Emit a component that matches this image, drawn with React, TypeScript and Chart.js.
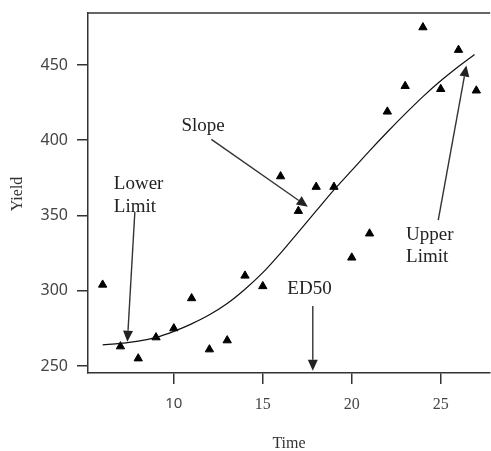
import React, { useEffect, useRef } from "react";
import { Chart, registerables } from "chart.js";

Chart.register(...registerables);

// Observed data
const timeValues = [6, 7, 8, 9, 10, 11, 12, 13, 14, 15, 16, 17, 18, 19, 20, 21, 22, 23, 24, 25, 26, 27];
const yieldValues = [304, 263, 255, 269, 275, 295, 261, 267, 310, 303, 376, 353, 369, 369, 322, 338, 419, 436, 475, 434, 460, 433];

// Fitted curve
const fitTime = [6, 7, 8, 9, 10, 11, 12, 13, 14, 15, 16, 17, 18, 19, 20, 21, 22, 23, 24, 25, 26, 26.9];
const fitYield = [264, 265, 266.5, 269, 273, 278, 284, 291.5, 301, 312, 325, 339, 353, 367, 380, 393, 405.5, 417.5, 429, 439.5, 449, 457];

const xTickValues = [10, 15, 20, 25];
const yTickValues = [250, 300, 350, 400, 450];

// Annotations in data units
const noteLabels = [["Lower", "Limit"], ["Slope"], ["ED50"], ["Upper", "Limit"]];
const noteTextX = [6.63, 10.43, 16.38, 23.05];
const noteTextY = [[367.6, 352.3], [406.4], [297.8], [333.9, 318.9]];
const arrowFrom = [[7.81, 352.3], [12.11, 400.6], [17.81, 289.9], [24.86, 347]];
const arrowTo = [[7.39, 266.1], [17.53, 355.8], [17.81, 246.9], [26.44, 449.6]];

const SERIF = "'Liberation Serif', 'Times New Roman', serif";
const SANS = "'Noto Sans', 'DejaVu Sans', sans-serif";

const annotationPlugin = {
  id: "annotationsAndFrame",
  afterDraw(chart: any) {
    const { ctx, chartArea, scales } = chart;
    const xs = scales.x;
    const ys = scales.y;
    ctx.save();
    // top frame line
    ctx.strokeStyle = "#333";
    ctx.lineWidth = 1.5;
    ctx.beginPath();
    ctx.moveTo(chartArea.left, chartArea.top);
    ctx.lineTo(chartArea.right, chartArea.top);
    ctx.stroke();

    // arrows
    ctx.strokeStyle = "#333";
    ctx.fillStyle = "#222";
    ctx.lineWidth = 1.4;
    for (let i = 0; i < arrowFrom.length; i++) {
      const x1 = xs.getPixelForValue(arrowFrom[i][0]);
      const y1 = ys.getPixelForValue(arrowFrom[i][1]);
      const x2 = xs.getPixelForValue(arrowTo[i][0]);
      const y2 = ys.getPixelForValue(arrowTo[i][1]);
      const ang = Math.atan2(y2 - y1, x2 - x1);
      const headLen = 11;
      const headW = 5;
      const bx = x2 - headLen * Math.cos(ang);
      const by = y2 - headLen * Math.sin(ang);
      ctx.beginPath();
      ctx.moveTo(x1, y1);
      ctx.lineTo(bx, by);
      ctx.stroke();
      ctx.beginPath();
      ctx.moveTo(x2, y2);
      ctx.lineTo(bx + headW * Math.sin(ang), by - headW * Math.cos(ang));
      ctx.lineTo(bx - headW * Math.sin(ang), by + headW * Math.cos(ang));
      ctx.closePath();
      ctx.fill();
    }

    // labels
    ctx.fillStyle = "#222";
    ctx.font = `19px ${SERIF}`;
    ctx.textAlign = "left";
    ctx.textBaseline = "alphabetic";
    for (let i = 0; i < noteLabels.length; i++) {
      const x = xs.getPixelForValue(noteTextX[i]);
      noteLabels[i].forEach((line, j) => {
        ctx.fillText(line, x, ys.getPixelForValue(noteTextY[i][j]));
      });
    }

    // axis titles
    ctx.fillStyle = "#333";
    ctx.font = `16px ${SERIF}`;
    ctx.textAlign = "center";
    ctx.textBaseline = "middle";
    ctx.fillText("Time", 289, 444);
    ctx.save();
    ctx.translate(18, 194);
    ctx.rotate(-Math.PI / 2);
    ctx.fillText("Yield", 0, 0);
    ctx.restore();
    ctx.restore();
  },
};

export default function App() {
  const ref = useRef<HTMLCanvasElement>(null);
  useEffect(() => {
    if (!ref.current) return;
    const chart = new Chart(ref.current, {
      type: "scatter",
      data: {
        datasets: [
          {
            type: "line",
            label: "fit",
            data: fitTime.map((t, i) => ({ x: t, y: fitYield[i] })),
            borderColor: "#111",
            borderWidth: 1.2,
            pointRadius: 0,
            cubicInterpolationMode: "monotone",
            fill: false,
          } as any,
          {
            label: "Yield",
            data: timeValues.map((t, i) => ({ x: t, y: yieldValues[i] })),
            pointStyle: "triangle",
            pointRadius: 4.8,
            backgroundColor: "#000",
            borderColor: "#000",
            borderWidth: 1,
          },
        ],
      },
      options: {
        animation: false,
        responsive: false,
        devicePixelRatio: 1,
        layout: { padding: { top: 13, right: 0, left: 0, bottom: 0 } },
        plugins: { legend: { display: false }, tooltip: { enabled: false } },
        scales: {
          x: {
            type: "linear",
            min: 5.177,
            max: 27.78,
            afterBuildTicks: (scale: any) => {
              scale.ticks = xTickValues.map((v) => ({ value: v }));
            },
            afterFit: (scale: any) => {
              scale.height = 78;
              scale.paddingLeft = 0;
              scale.paddingRight = 0;
              scale.paddingTop = 0;
              scale.paddingBottom = 0;
            },
            grid: { drawOnChartArea: false, tickLength: 11, color: "#333", lineWidth: 1.5 },
            border: { display: true, color: "#333", width: 1.5 },
            ticks: {
              padding: 11,
              color: "#444",
              autoSkip: false,
              maxRotation: 0,
              font: (c: any) =>
                c.tick && c.tick.value === 10
                  ? { family: SANS, size: 15 }
                  : { family: SERIF, size: 16 },
              callback: (v: any) => String(v),
            },
          },
          y: {
            type: "linear",
            min: 245.35,
            max: 484.55,
            afterBuildTicks: (scale: any) => {
              scale.ticks = yTickValues.map((v) => ({ value: v }));
            },
            afterFit: (scale: any) => {
              scale.width = 88;
              scale.paddingLeft = 0;
              scale.paddingRight = 0;
              scale.paddingTop = 0;
              scale.paddingBottom = 0;
            },
            grid: { drawOnChartArea: false, tickLength: 11, color: "#333", lineWidth: 1.5 },
            border: { display: true, color: "#333", width: 1.5 },
            ticks: {
              padding: 9,
              color: "#444",
              autoSkip: false,
              font: { family: SANS, size: 16 },
              callback: (v: any) => String(v),
            },
          },
        },
      },
      plugins: [annotationPlugin],
    });
    return () => chart.destroy();
  }, []);
  return (
    <div style={{ position: "fixed", left: 0, top: 0, width: 491, height: 451, overflow: "hidden", background: "#fff" }}>
      <canvas ref={ref} width={496} height={451} style={{ display: "block" }} />
    </div>
  );
}
